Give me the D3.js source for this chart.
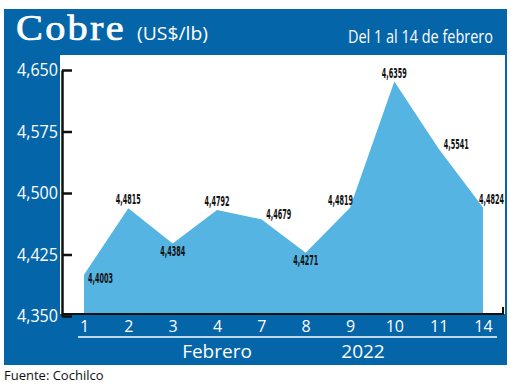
<!DOCTYPE html>
<html>
    <head>
        <title>Cobre</title>
        <meta charset="UTF-8" />
        <script src="https://cdn.jsdelivr.net/npm/d3@7"></script>
        <style>
            body { margin: 0; background: #fff; }
            svg { display: block; }
        </style>
    </head>
    <body>
        <svg width="520" height="386"></svg>
        <script>
            // datos del grafico
            var dias = ["1", "2", "3", "4", "7", "8", "9", "10", "11", "14"]
            var precios = [4.4003, 4.4815, 4.4384, 4.4792, 4.4679, 4.4271, 4.4819, 4.6359, 4.5541, 4.4824]
            var ticksY = [4.350, 4.425, 4.500, 4.575, 4.650]

            var azul = "#0565a9"
            var celeste = "#56b4e2"

            var svg = d3.select("svg")
            var es = d3.formatLocale({ decimal: ",", thousands: ".", grouping: [3], currency: ["$", ""] })

            // comprime un texto horizontalmente hasta el ancho w
            function ajustar(sel, w) {
                sel.each(function () {
                    var t = d3.select(this)
                    var x0 = +t.attr("x") || 0, y0 = +t.attr("y") || 0
                    var k = w / this.getComputedTextLength()
                    t.attr("x", 0).attr("y", 0)
                     .attr("transform", "translate(" + x0 + "," + y0 + ") scale(" + k + ",1)")
                })
            }

            // marco azul
            svg.append("rect").attr("x", 4).attr("y", 9).attr("width", 503).attr("height", 356).attr("fill", azul)
            svg.append("rect").attr("x", 60).attr("y", 55).attr("width", 445).attr("height", 259).attr("fill", "#fff")

            svg.append("text")
                .attr("x", 16).attr("y", 40)
                .attr("fill", "#fff")
                .attr("stroke", "#fff").attr("stroke-width", 0.7)
                .style("font-family", "'Liberation Serif', serif")
                .style("font-size", "35px")
                .style("letter-spacing", "2px")
                .text("Cobre")
                .call(ajustar, 110)
            svg.append("text")
                .attr("x", 137).attr("y", 40)
                .attr("fill", "#fff")
                .style("font-family", "'Open Sans', sans-serif")
                .style("font-size", "19px")
                .text("(US$/lb)")
                .call(ajustar, 71)
            svg.append("text")
                .attr("x", 348).attr("y", 43)
                .attr("fill", "#fff")
                .style("font-family", "'Open Sans', sans-serif")
                .style("font-size", "19px")
                .text("Del 1 al 14 de febrero")
                .call(ajustar, 145)

            var x = d3.scalePoint().domain(dias).range([84, 483])
            var y = d3.scaleLinear().domain([4.35, 4.65]).range([316, 70])

            var area = d3.area()
                .x((d, i) => x(dias[i]))
                .y0(313)
                .y1(d => y(d))

            svg.append("path")
                .attr("d", area(precios))
                .attr("fill", celeste)

            // eje inferior (linea negra)
            svg.append("path")
                .attr("d", "M62," + 314 + "H503V307")
                .attr("fill", "none")
                .attr("stroke", "#111")
                .attr("stroke-width", 2)

            var yAxis = d3.axisLeft(y)
                .tickValues(ticksY)
                .tickFormat(es.format(".3f"))
                .tickSizeInner(-10)
                .tickSizeOuter(0)
                .tickPadding(4)

            var gy = svg.append("g").attr("transform", "translate(62,0)").call(yAxis)
            gy.select(".domain").attr("stroke", "#111").attr("stroke-width", 2.5)
            gy.selectAll(".tick line").attr("stroke", "#111").attr("stroke-width", 2.5)
            gy.selectAll(".tick text")
                .attr("fill", "#fff")
                .style("font-family", "'Open Sans', sans-serif")
                .style("font-size", "18px")
                .attr("textLength", 41).attr("lengthAdjust", "spacingAndGlyphs")

            var xAxis = d3.axisBottom(x).tickSize(0).tickPadding(5)
            var gx = svg.append("g").attr("transform", "translate(0,316)").call(xAxis)
            gx.select(".domain").remove()
            gx.selectAll(".tick text")
                .attr("fill", "#fff")
                .style("font-family", "'Open Sans', sans-serif")
                .style("font-size", "16px")

            svg.append("line")
                .attr("x1", 78).attr("x2", 497)
                .attr("y1", 337).attr("y2", 337)
                .attr("stroke", "#fff").attr("stroke-width", 1.5)

            svg.append("text").attr("x", 217).attr("y", 358)
                .attr("text-anchor", "middle").attr("fill", "#fff")
                .style("font-family", "'Open Sans', sans-serif").style("font-size", "19px")
                .text("Febrero")
            svg.append("text").attr("x", 363).attr("y", 358)
                .attr("text-anchor", "middle").attr("fill", "#fff")
                .style("font-family", "'Open Sans', sans-serif").style("font-size", "19px")
                .text("2022")

            // etiquetas de valores
            var fmt4 = es.format(".4f")
            svg.selectAll("text.valor")
                .data(precios)
                .enter()
                .append("text")
                .attr("class", "valor")
                .each(function (d, i) {
                    var px = x(dias[i]), py = y(d)
                    var prev = precios[i - 1], next = precios[i + 1]
                    var dx = 0, dy = 0, anchor = "middle"
                    if (i == 0) { dx = 4; dy = 8; anchor = "start" }
                    else if (i == precios.length - 1) { dx = -4; dy = -3; anchor = "start" }
                    else if (d > prev && d > next) { dy = -4 }
                    else if (d < prev && d < next) { dy = 12 }
                    else if (d > prev) { dx = 3; dy = -3; anchor = "end" }
                    else { dx = 5; dy = 0; anchor = "start" }
                    d3.select(this).attr("text-anchor", anchor).attr("x", px + dx).attr("y", py + dy)
                })
                .attr("fill", "#111")
                .style("font-family", "'Liberation Sans Narrow', 'DejaVu Sans Condensed', sans-serif")
                .style("font-size", "14px")
                .style("font-weight", "bold")
                .text(d => fmt4(d))
                .call(ajustar, 25)

            svg.append("text")
                .attr("x", 4).attr("y", 380)
                .attr("fill", "#111")
                .style("font-family", "'Open Sans', sans-serif")
                .style("font-size", "13px")
                .text("Fuente: Cochilco")
        </script>
    </body>
</html>
